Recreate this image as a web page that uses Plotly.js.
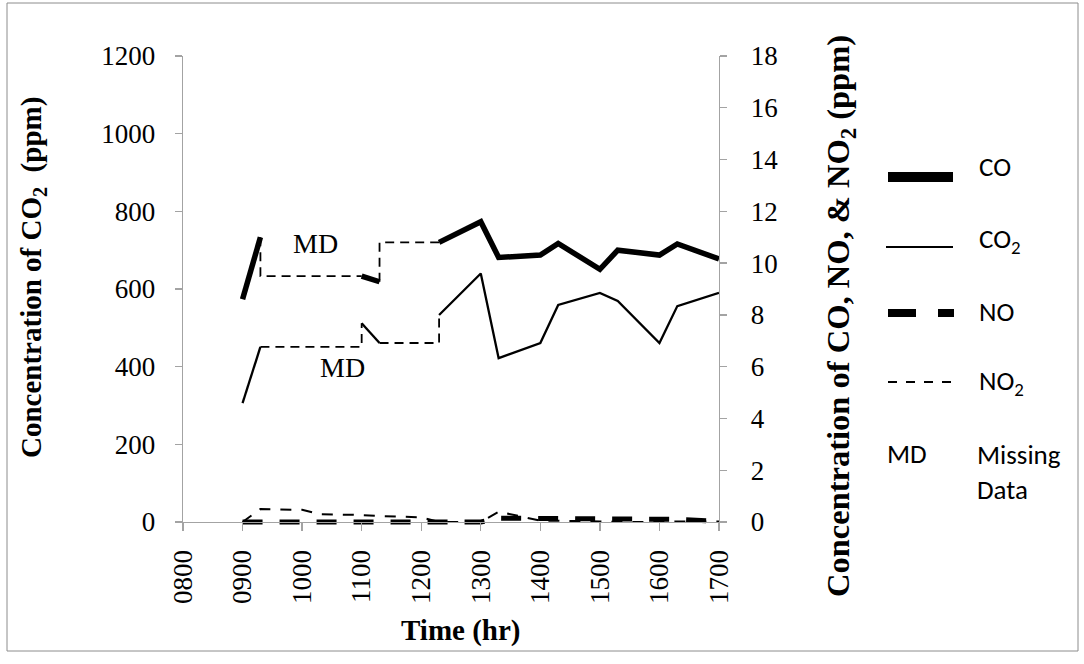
<!DOCTYPE html>
<html>
<head>
<meta charset="utf-8">
<script src="https://cdn.plot.ly/plotly-3.0.1.min.js"></script>
<style>html,body{margin:0;padding:0;background:#fff;}#chart{width:1084px;height:664px;}</style>
</head>
<body>
<div id="chart"></div>
<script>
// ---- data ----
const hours = [9, 9.3, 10, 10.3, 11, 11.3, 12, 12.3, 13, 13.3, 14, 14.3, 15, 15.3, 16, 16.3, 17];
const co2 = [306, 451, null, null, 512, 461, null, 533, 640, 422, 461, 559, 590, 569, 461, 556, 590];
const co  = [8.6, 11.0, null, null, 9.5, 9.28, null, 10.8, 11.6, 10.22, 10.31, 10.76, 9.76, 10.5, 10.31, 10.74, 10.16];
const no  = [0, 0, 0, 0, 0, 0, 0, 0, 0, 0.15, 0.14, 0.12, 0.08, 0.08, 0.08, 0.1, 0.03];
const no2 = [0, 0.5, 0.47, 0.3, 0.27, 0.23, 0.18, 0, 0, 0.4, 0.05, 0.05, 0.02, 0, 0, 0.02, 0.02];
const tickHours = [8, 9, 10, 11, 12, 13, 14, 15, 16, 17];
const tickLabels = ["0800", "0900", "1000", "1100", "1200", "1300", "1400", "1500", "1600", "1700"];
const leftMax = 1200, rightMax = 18;

// ---- geometry ----
const W = 1084, H = 664;
const L = 183, R = 719, T = 56, Z = 522, pad = 5, B = Z + pad;
const pw = R - L, ph = B - T;
const px = x => (x - L) / pw;
const py = y => (B - y) / ph;

// bridge traces for missing data (dashed step connectors)
function gaps(x, y) {
  const segs = [];
  let last = -1;
  for (let i = 0; i < y.length; i++) {
    if (y[i] === null) continue;
    if (last >= 0 && i - last > 1) segs.push([last, i]);
    last = i;
  }
  return segs;
}
const mdStyle = {color: '#000', width: 1.8, dash: '9px,6px'};
const traces = [];
gaps(hours, co2).forEach(([a, b]) => traces.push({
  x: [hours[a], hours[b]], y: [co2[a], co2[b]], yaxis: 'y', mode: 'lines',
  line: Object.assign({shape: 'hv'}, mdStyle), showlegend: false, hoverinfo: 'skip'
}));
gaps(hours, co).forEach(([a, b]) => traces.push({
  x: [hours[a], hours[b]], y: [co[a], co[b]], yaxis: 'y2', mode: 'lines',
  line: Object.assign({shape: 'vh'}, mdStyle), showlegend: false, hoverinfo: 'skip'
}));
traces.push(
  {x: hours, y: co2, name: 'CO2', yaxis: 'y', mode: 'lines', line: {color: '#000', width: 2.3}},
  {x: hours, y: co, name: 'CO', yaxis: 'y2', mode: 'lines', line: {color: '#000', width: 5.5}},
  {x: hours, y: no2, name: 'NO2', yaxis: 'y2', mode: 'lines', line: {color: '#000', width: 2, dash: '11px,10px'}},
  {x: hours, y: no, name: 'NO', yaxis: 'y2', mode: 'lines', line: {color: '#000', width: 5, dash: '20px,17px'}}
);

const axisGrey = '#a3a3a3';
const serif = 'Liberation Serif, Times New Roman, serif';
const sans = 'Carlito, Lato, sans-serif';
const tickFont = {family: serif, size: 27, color: '#000'};

const shapes = [
  {type: 'rect', xref: 'paper', yref: 'paper', x0: px(7), x1: px(1078), y0: py(3), y1: py(651),
   line: {color: '#8c8c8c', width: 1}, layer: 'below'},
  // legend samples
  {type: 'line', xref: 'paper', yref: 'paper', x0: px(888), x1: px(953), y0: py(177), y1: py(177), line: {color: '#000', width: 10}},
  {type: 'line', xref: 'paper', yref: 'paper', x0: px(886), x1: px(953), y0: py(247), y1: py(247), line: {color: '#000', width: 2}},
  {type: 'line', xref: 'paper', yref: 'paper', x0: px(888), x1: px(954), y0: py(313), y1: py(313), line: {color: '#000', width: 8, dash: '28px,22px'}},
  {type: 'line', xref: 'paper', yref: 'paper', x0: px(888), x1: px(954), y0: py(382), y1: py(382), line: {color: '#000', width: 2, dash: '9px,9px'}}
];

function ann(text, x, y, opts) {
  return Object.assign({text: text, xref: 'paper', yref: 'paper', x: px(x), y: py(y), showarrow: false,
    xanchor: 'center', yanchor: 'middle'}, opts || {});
}
const legFont = {family: sans, size: 27, color: '#000'};
const titleFont = {family: serif, size: 29, color: '#000'};
const annotations = [
  ann('<b>Concentration of CO<sub>2</sub>  (ppm)</b>', 33, 278, {textangle: -90, font: titleFont}),
  ann('<b>Concentration of CO, NO, &amp; NO<sub>2</sub> (ppm)</b>', 840, 316, {textangle: -90, font: Object.assign({}, titleFont, {size: 32.5})}),
  ann('<b>Time (hr)</b>', 460, 630, {font: titleFont}),
  {text: 'MD', xref: 'x', yref: 'y', x: 10.22, y: 718, showarrow: false, font: {family: serif, size: 28, color: '#000'}},
  {text: 'MD', xref: 'x', yref: 'y', x: 10.67, y: 399, showarrow: false, font: {family: serif, size: 28, color: '#000'}},
  ann('CO', 977, 167, {xanchor: 'left', font: legFont}),
  ann('CO<sub>2</sub>', 977, 240, {xanchor: 'left', font: legFont}),
  ann('NO', 977, 311, {xanchor: 'left', font: legFont}),
  ann('NO<sub>2</sub>', 977, 382, {xanchor: 'left', font: legFont}),
  ann('MD', 885, 453, {xanchor: 'left', font: legFont}),
  ann('Missing<br>Data', 975, 472, {xanchor: 'left', align: 'left', font: legFont})
];

const layout = {
  width: W, height: H, autosize: false,
  margin: {l: L, r: W - R, t: T, b: H - B, pad: 0},
  paper_bgcolor: '#fff', plot_bgcolor: 'rgba(0,0,0,0)',
  showlegend: false,
  xaxis: {
    range: [tickHours[0], tickHours[tickHours.length - 1]], tickvals: tickHours, ticktext: tickLabels,
    tickangle: -90, anchor: 'free', position: pad / ph,
    showline: true, linecolor: axisGrey, linewidth: 1.3, ticks: 'outside', ticklen: 8, tickwidth: 1.3, tickcolor: axisGrey,
    showgrid: false, zeroline: false, tickfont: tickFont, ticklabelstandoff: 8
  },
  yaxis: {
    range: [-pad * leftMax / (Z - T), leftMax], dtick: 200, tick0: 0,
    showline: true, linecolor: axisGrey, linewidth: 1.3, ticks: 'outside', ticklen: 7, tickwidth: 1.3, tickcolor: axisGrey,
    showgrid: false, zeroline: false, tickfont: tickFont, ticklabelstandoff: 14
  },
  yaxis2: {
    range: [-pad * rightMax / (Z - T), rightMax], dtick: 2, tick0: 0, overlaying: 'y', side: 'right', anchor: 'x',
    showline: true, linecolor: axisGrey, linewidth: 1.3, ticks: 'outside', ticklen: 7, tickwidth: 1.3, tickcolor: axisGrey,
    showgrid: false, zeroline: false, tickfont: tickFont, ticklabelstandoff: 18
  },
  shapes: shapes,
  annotations: annotations
};

Plotly.newPlot('chart', traces, layout, {staticPlot: true, displayModeBar: false});
</script>
</body>
</html>
